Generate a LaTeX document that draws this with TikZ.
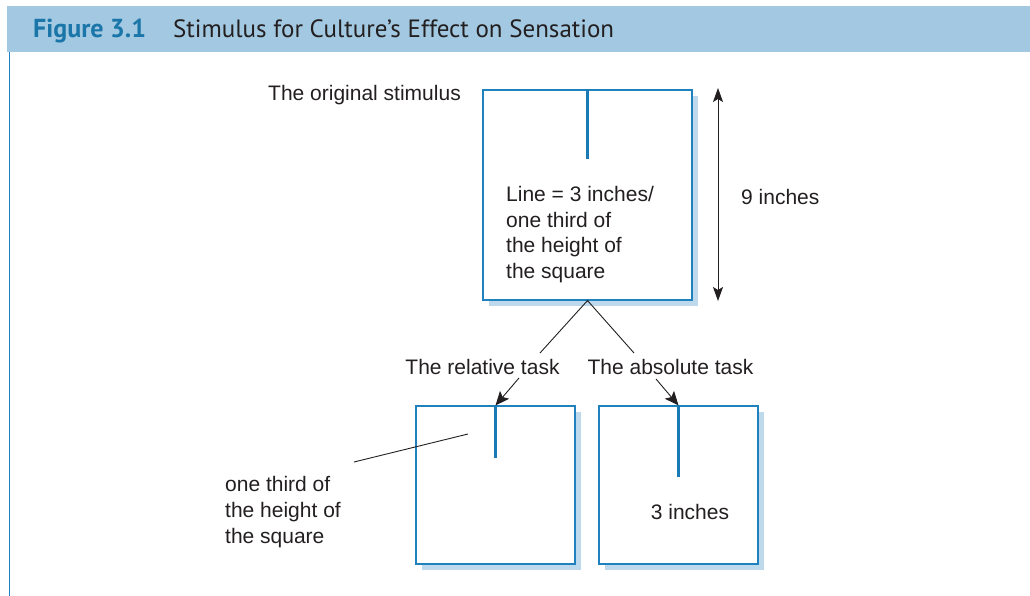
\documentclass[tikz,border=0pt]{standalone}
\usepackage{fontspec}
\setmainfont{Liberation Sans}
\newfontfamily\headfont{PT Sans}
\usetikzlibrary{arrows.meta,shadows}
\definecolor{bandblue}{HTML}{A3C9E2}
\definecolor{figblue}{HTML}{1A75A8}
\definecolor{boxblue}{HTML}{1F82BF}
\definecolor{stemblue}{HTML}{1A7AB5}
\definecolor{shadowblue}{HTML}{BDD9EB}
\definecolor{ink}{HTML}{231F20}
\tikzset{
  sqbox/.style={draw=boxblue, line width=1.1pt, fill=white, inner sep=0pt,
    drop shadow={shadow xshift=6pt, shadow yshift=-6pt, fill=shadowblue, opacity=1}},
  stem/.style={draw=stemblue, line width=2.2pt},
  lbl/.style={text=ink, font=\fontsize{21}{25.7}\selectfont, inner sep=0pt, align=left},
  conn/.style={draw=ink, line width=0.9pt},
  arr/.style={conn, -{Stealth[length=14pt,width=12pt,inset=3pt]}},
  darr/.style={conn, {Stealth[length=14pt,width=10pt,inset=3pt]}-{Stealth[length=14pt,width=10pt,inset=3pt]}},
  headtxt/.style={inner sep=0pt, anchor=base west, font=\headfont\fontsize{25}{29}\selectfont}
}
\begin{document}
\begin{tikzpicture}[x=1pt,y=-1pt]
\useasboundingbox (0,0) rectangle (1030,596);
% header band
\fill[bandblue] (7,6) rectangle (1030,52);
\node[headtxt, text=figblue, font=\headfont\bfseries\fontsize{26}{30}\selectfont] (fig) at (33,38) {Figure 3.1};
\node[headtxt, text=ink] (title) at (173,38) {Stimulus for Culture’s Effect on Sensation};
\draw[boxblue, line width=1.5pt] (9.5,52) -- (9.5,596);

% main square
\node[sqbox, minimum width=209pt, minimum height=210pt] (m) at (587.5,195) {};
\coordinate (mstemend) at (587.5,159);
\draw[stem] (m.north) -- (mstemend);
\node[lbl, anchor=west] (mtext) at (506,234.5) {Line = 3 inches/\\one third of\\the height of\\the square};
\node[lbl, anchor=east] (orig) at (461,95) {The original stimulus};

% dimension arrow
\coordinate (dtop) at (718,88);
\coordinate (dbot) at (718,301);
\draw[darr] (dtop) -- (dbot);
\node[lbl, anchor=west] (nine) at (741,197) {9 inches};

% bottom squares
\node[sqbox, minimum width=159pt, minimum height=158pt] (bl) at (495.5,485) {};
\node[sqbox, minimum width=159pt, minimum height=158pt] (br) at (678.5,485) {};
\coordinate (blstem) at (495.5,458);
\coordinate (brstem) at (678.5,477);
\draw[stem] (bl.north) -- (blstem);
\draw[stem] (br.north) -- (brstem);
\node[lbl] (three) at (690,512) {3 inches};

% task labels
\node[lbl] (rel) at (482.5,367) {The relative task};
\node[lbl] (abs) at (670.5,367) {The absolute task};
\coordinate (relend) at (540,353);
\coordinate (absend) at (634,353);
\draw[conn] (relend) -- (m.south) -- (absend);
\coordinate (relarr) at (519,378);
\coordinate (absarr) at (656,379);
\draw[arr] (relarr) -- (bl.north);
\draw[arr] (absarr) -- (br.north);

% left label with pointer
\node[lbl, anchor=west] (third) at (225,512) {one third of\\the height of\\the square};
\coordinate (pa) at (354,462);
\coordinate (pb) at (468,434);
\draw[conn] (pa) -- (pb);
\end{tikzpicture}
\end{document}
